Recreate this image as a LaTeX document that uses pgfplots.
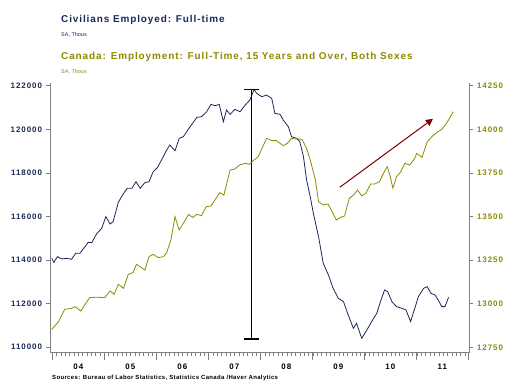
\documentclass[border=0pt]{standalone}
\usepackage{fontspec}
\setmainfont{Liberation Sans}
\newfontfamily\ttlfont[LetterSpace=9]{Liberation Sans}
\newfontfamily\tickfont[LetterSpace=12]{Liberation Sans}
\newfontfamily\srcfont[LetterSpace=6]{Liberation Sans}
\usepackage{pgfplots}
\pgfplotsset{compat=1.18}
\usetikzlibrary{arrows.meta}
\definecolor{navy}{RGB}{28,40,88}
\definecolor{olv}{RGB}{140,140,0}
\definecolor{maroonc}{RGB}{120,0,0}
\definecolor{axgray}{RGB}{128,128,128}
\begin{document}
\begin{tikzpicture}
\path[use as bounding box, fill=white] (0bp,0bp) rectangle (519bp,392bp);
\node[anchor=west, inner sep=0pt, text=navy, font=\ttlfont\bfseries\fontsize{10}{12}\selectfont] at (61bp,372bp) {Civilians Employed: Full-time};
\node[anchor=west, inner sep=0pt, text=navy, font=\fontsize{5.5}{6}\selectfont] at (61bp,357.5bp) {SA, Thous};
\node[anchor=west, inner sep=0pt, text=olv, font=\ttlfont\bfseries\fontsize{10}{12}\selectfont] at (61bp,334.7bp) {Canada: Employment: Full-Time, 15 Years and Over, Both Sexes};
\node[anchor=west, inner sep=0pt, text=olv, font=\fontsize{5.5}{6}\selectfont] at (61bp,320.5bp) {SA, Thous};
\node[anchor=west, inner sep=0pt, font=\srcfont\bfseries\fontsize{6}{7}\selectfont] at (52bp,14.3bp) {Sources: Bureau of Labor Statistics, Statistics Canada /Haver Analytics};

% x axis + US data
\begin{axis}[
  at={(50bp,39.3bp)}, anchor=south west, scale only axis,
  width=419bp, height=270bp,
  xmin=2003.956, xmax=2012.013, ymin=109750, ymax=122140,
  axis x line*=bottom, axis y line*=left,
  axis line style={axgray, line width=0.8bp},
  ytick=\empty,
  xtick={2004,...,2012}, xticklabels={},
  minor xtick={2004,2004.083333,...,2012},
  tick align=outside,
  major tick length=7bp, minor tick length=3.5bp,
  every tick/.style={axgray, line width=0.6bp},
  every minor tick/.style={axgray, line width=0.5bp},
  extra x ticks={2004.5,2005.5,2006.5,2007.5,2008.5,2009.5,2010.5,2011.5},
  extra x tick labels={04,05,06,07,08,09,10,11},
  extra x tick style={tick style={draw=none}},
  xticklabel style={font=\tickfont\bfseries\fontsize{8}{9}\selectfont, yshift=-1bp},
  clip=false,
]
\addplot[navy, line width=0.8bp] coordinates {
(2003.99,114081) (2004.03,113898) (2004.10,114158) (2004.18,114051) (2004.28,114081)
(2004.37,114035) (2004.45,114311) (2004.53,114311) (2004.63,114616) (2004.69,114815)
(2004.76,114800) (2004.85,115197) (2004.95,115457) (2005.03,115992) (2005.11,115656)
(2005.17,115763) (2005.27,116650) (2005.35,116986) (2005.44,117292) (2005.53,117292)
(2005.61,117598) (2005.69,117292) (2005.78,117552) (2005.86,117598) (2005.94,118057)
(2006.02,118240) (2006.10,118592) (2006.20,119051) (2006.26,119280) (2006.36,119020)
(2006.44,119586) (2006.52,119662) (2006.65,120121) (2006.78,120549) (2006.87,120580)
(2006.97,120809) (2007.05,121145) (2007.13,121084) (2007.21,121145) (2007.29,120350)
(2007.35,120885) (2007.42,120687) (2007.51,120916) (2007.61,120809) (2007.71,121115)
(2007.80,121344) (2007.88,121830) (2007.93,121650) (2008.03,121497) (2008.12,121573)
(2008.22,121421) (2008.28,120733) (2008.38,120687) (2008.44,120427) (2008.54,120121)
(2008.60,119662) (2008.70,119586) (2008.76,119433) (2008.83,118745) (2008.89,117674)
(2008.96,116910) (2009.02,116146) (2009.12,115075) (2009.21,113852) (2009.31,113317)
(2009.40,112705) (2009.50,112247) (2009.60,112093) (2009.69,111482) (2009.79,110871)
(2009.85,111100) (2009.95,110412) (2010.05,110794) (2010.14,111176) (2010.24,111559)
(2010.30,112017) (2010.39,112629) (2010.45,112553) (2010.53,112093) (2010.62,111864)
(2010.72,111788) (2010.80,111711) (2010.89,111176) (2010.98,111864) (2011.04,112323)
(2011.14,112705) (2011.21,112782) (2011.28,112476) (2011.36,112399) (2011.42,112170)
(2011.49,111864) (2011.55,111864) (2011.62,112293)
};
% peak-to-trough marker
\addplot[black, line width=1.2bp] coordinates {(2007.835,110380) (2007.835,121840)};
\addplot[black, line width=1.2bp] coordinates {(2007.69,121840) (2007.98,121840)};
\addplot[black, line width=1.2bp] coordinates {(2007.69,110380) (2007.98,110380)};
\end{axis}

% left y axis
\begin{axis}[
  at={(50bp,39.3bp)}, anchor=south west, scale only axis,
  width=419bp, height=270bp,
  xmin=2003.956, xmax=2012.013, ymin=109750, ymax=122140,
  hide x axis, axis y line*=left,
  axis line style={axgray, line width=0.8bp},
  ytick={110000,112000,114000,116000,118000,120000,122000},
  yticklabels={110000,112000,114000,116000,118000,120000,122000},
  scaled y ticks=false,
  tick align=outside, major tick length=4.5bp,
  every tick/.style={axgray, line width=0.6bp},
  yticklabel style={text=navy, font=\tickfont\bfseries\fontsize{8}{9}\selectfont},
]
\addplot[draw=none] coordinates {(2005,115000) (2006,116000)};
\end{axis}

% right y axis + Canada data
\begin{axis}[
  at={(50bp,39.3bp)}, anchor=south west, scale only axis,
  width=419bp, height=270bp,
  xmin=2003.956, xmax=2012.013, ymin=12719, ymax=14267.2,
  hide x axis, axis y line*=right,
  axis line style={axgray, line width=0.8bp},
  ytick={12750,13000,13250,13500,13750,14000,14250},
  yticklabels={12750,13000,13250,13500,13750,14000,14250},
  scaled y ticks=false,
  tick align=outside, major tick length=4.5bp,
  every tick/.style={axgray, line width=0.6bp},
  yticklabel style={text=olv, font=\tickfont\bfseries\fontsize{8}{9}\selectfont},
  clip=false,
]
\addplot[olv, line width=0.8bp] coordinates {
(2003.99,12853) (2004.12,12897) (2004.24,12968) (2004.37,12973) (2004.44,12983)
(2004.55,12958) (2004.63,12996) (2004.72,13035) (2004.85,13037) (2005.01,13035)
(2005.11,13073) (2005.19,13054) (2005.27,13111) (2005.37,13088) (2005.46,13168)
(2005.55,13178) (2005.62,13226) (2005.69,13212) (2005.78,13193) (2005.86,13270)
(2005.94,13283) (2006.04,13264) (2006.14,13270) (2006.20,13293) (2006.28,13365)
(2006.36,13499) (2006.44,13423) (2006.52,13461) (2006.62,13512) (2006.70,13495)
(2006.78,13512) (2006.87,13505) (2006.96,13556) (2007.05,13560) (2007.13,13595)
(2007.22,13637) (2007.30,13623) (2007.42,13767) (2007.51,13772) (2007.60,13795)
(2007.71,13805) (2007.79,13799) (2007.88,13824) (2007.96,13843) (2008.12,13948)
(2008.22,13935) (2008.31,13935) (2008.44,13906) (2008.52,13920) (2008.60,13948)
(2008.70,13944) (2008.80,13943) (2008.89,13891) (2008.96,13824) (2009.06,13709)
(2009.12,13585) (2009.21,13566) (2009.30,13572) (2009.38,13528) (2009.46,13480)
(2009.54,13495) (2009.62,13503) (2009.71,13604) (2009.79,13623) (2009.87,13652)
(2009.95,13618) (2010.03,13633) (2010.12,13686) (2010.20,13686) (2010.29,13700)
(2010.37,13748) (2010.44,13786) (2010.49,13738) (2010.55,13662) (2010.62,13728)
(2010.70,13757) (2010.78,13805) (2010.87,13795) (2010.95,13824) (2011.01,13862)
(2011.11,13839) (2011.21,13929) (2011.30,13958) (2011.40,13983) (2011.49,14000)
(2011.59,14038) (2011.71,14101)
};
\addplot[maroonc, line width=1bp, -{Triangle[length=7bp,width=7bp]}] coordinates {(2009.53,13668) (2011.32,14060)};
\end{axis}
\end{tikzpicture}
\end{document}
